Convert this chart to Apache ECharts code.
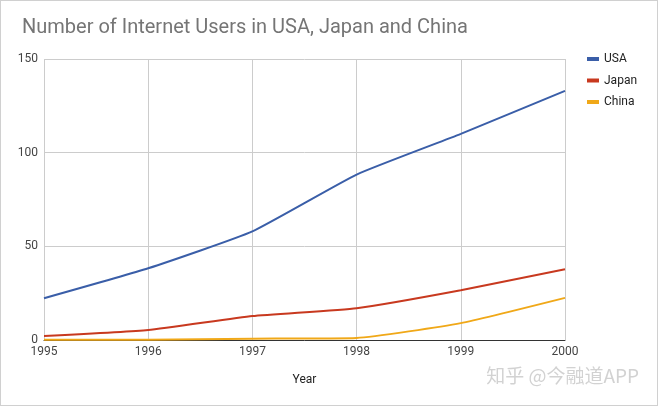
<!DOCTYPE html>
<html>
<head>
<meta charset="utf-8">
<script src="https://cdn.jsdelivr.net/npm/echarts@6/dist/echarts.min.js"></script>
<style>
  html, body { margin: 0; padding: 0; background: #fff; }
  #main { width: 656px; height: 404px; border: 1px solid #d0d0d0; }
</style>
</head>
<body>
<div id="main"></div>
<script>
// data (millions of users)
const years = ['1995', '1996', '1997', '1998', '1999', '2000'];
const usa = [22.3, 38.3, 58, 88.3, 110, 133];
const japan = [2.1, 5.3, 12.8, 17, 26.6, 37.8];
const china = [0.1, 0.2, 0.7, 1.1, 9, 22.5];
const yTicks = [0, 50, 100, 150];

const chart = echarts.init(document.getElementById('main'));
const font = 'Roboto';

function line(name, data, color) {
  return {
    name: name,
    type: 'line',
    data: data,
    smooth: 0.15,
    showSymbol: false,
    lineStyle: { width: 2, color: color },
    itemStyle: { color: color }
  };
}

chart.setOption({
  animation: false,
  textStyle: { fontFamily: font },
  title: {
    text: 'Number of Internet Users in USA, Japan and China',
    left: 16, top: 12,
    textStyle: { fontFamily: font, fontSize: 20, fontWeight: 'normal', color: '#757575' }
  },
  legend: {
    orient: 'vertical',
    left: 581, top: 47,
    itemWidth: 12, itemHeight: 4, itemGap: 9.5,
    icon: 'rect',
    textStyle: { fontFamily: font, fontSize: 12, color: '#222' },
    data: ['USA', 'Japan', 'China']
  },
  grid: { left: 43, right: 92, top: 58, bottom: 65 },
  xAxis: {
    type: 'category',
    data: years,
    boundaryGap: false,
    name: 'Year',
    nameLocation: 'middle',
    nameGap: 34,
    nameTextStyle: { fontFamily: font, fontSize: 12, color: '#222' },
    axisLine: { lineStyle: { color: '#333', width: 1 } },
    axisTick: { show: false },
    axisLabel: { fontSize: 12, color: '#444', margin: 6 },
    splitLine: { show: true, lineStyle: { color: '#ccc' } }
  },
  yAxis: {
    type: 'value',
    min: yTicks[0], max: yTicks[yTicks.length - 1], interval: 50,
    axisLine: { show: false },
    axisTick: { show: false },
    axisLabel: { fontSize: 12, color: '#444', margin: 6 },
    splitLine: { lineStyle: { color: '#ccc' } }
  },
  graphic: [{
    type: 'text',
    right: 18, top: 365,
    style: {
      text: '知乎 @今融道APP',
      font: '19px "Noto Sans CJK SC"',
      fill: '#d2d2d2'
    }
  }],
  series: [
    line('USA', usa, '#3a5ea8'),
    line('Japan', japan, '#c8391f'),
    line('China', china, '#f0a818')
  ]
});
</script>
</body>
</html>
